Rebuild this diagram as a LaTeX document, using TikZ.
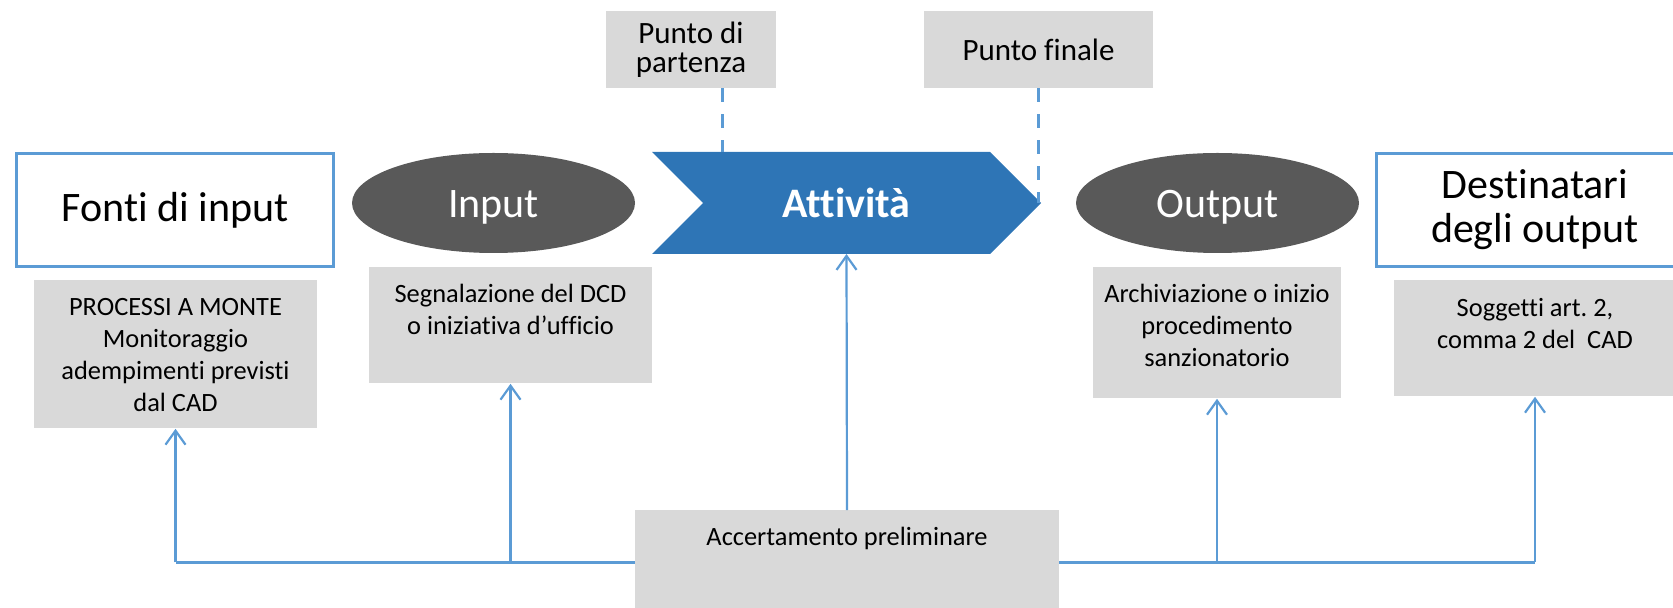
\documentclass[tikz,border=0pt]{standalone}
\usepackage{fontspec}
\setmainfont{Carlito}[Ligatures=NoCommon]
\frenchspacing
\usetikzlibrary{arrows.meta, positioning, backgrounds, shapes.geometric, calc}
\definecolor{lineblue}{HTML}{5B9BD5}
\definecolor{actblue}{HTML}{2E75B6}
\definecolor{ovalgray}{HTML}{595959}
\definecolor{notegray}{HTML}{D9D9D9}
\tikzset{
  headbox/.style={rectangle, draw=lineblue, line width=1.5pt, fill=white, minimum width=158.5pt,
    minimum height=56.5pt, font=\fontsize{21}{22}\selectfont, align=center},
  phase/.style={ellipse, fill=ovalgray, minimum width=141.5pt, minimum height=50pt,
    text height=15pt, text depth=0pt, font=\fontsize{21}{21.5}\selectfont, text=white},
  tag/.style={rectangle, fill=notegray, minimum height=38.5pt, font=\fontsize{15.5}{14.5}\selectfont,
    align=center},
  note/.style={rectangle, fill=notegray, inner sep=0pt, anchor=north, font=\fontsize{13.2}{16}\selectfont},
  arr/.style={-{Straight Barb[length=7pt, width=10pt]}, line width=1.1pt, lineblue},
  bus/.style={line width=1.5pt, lineblue},
  dashline/.style={line width=1.5pt, lineblue, dash pattern=on 7pt off 6pt},
}

\begin{document}
\begin{tikzpicture}[x=0.5pt, y=-0.5pt]
  \useasboundingbox (0,0) rectangle (1673,608);
  \clip (0,0) rectangle (1673,608);

  % main row
  \node[headbox] (src) at (175,210) {Fonti di input};
  \node[phase] (inp) at (493.5,203) {Input};
  \node[outer sep=0pt, minimum width=194.5pt, minimum height=51pt, text=white, text height=15pt,
    text depth=0pt, font=\bfseries\fontsize{21}{21.5}\selectfont] (act) at (846.5,203) {Attività};
  \node[phase] (out) at (1217.5,203) {Output};
  \node[headbox] (dst) at (1535,210) {Destinatari\\degli output};
  \begin{scope}[on background layer]
    \fill[actblue] (act.north west) -- ([xshift=-25.5pt]act.north east) -- (act.east)
      -- ([xshift=-25.5pt]act.south east) -- (act.south west) -- ([xshift=25.5pt]act.west) -- cycle;
  \end{scope}

  % start / end points
  \node[tag, minimum width=85pt] (part) at (691,49.5) {Punto di\\partenza};
  \node[tag, minimum width=114.5pt] (fin) at (1038.5,49.5) {Punto finale};
  \coordinate (startpt) at (722,152);
  \draw[dashline] (part.south -| startpt) -- (startpt);
  \draw[dashline] (fin.south) -- (fin.south |- act.east);

  % details
  \node[note, text height=17.5pt, text depth=56.5pt] (upstream) at (175.5,280)
    {\parbox[t]{141.5pt}{\centering PROCESSI A MONTE\\Monitoraggio\\adempimenti previsti\\dal CAD}};
  \node[note, text height=17.5pt, text depth=40.5pt] (sig) at (510.5,267)
    {\parbox[t]{141.5pt}{\centering Segnalazione del DCD\\o iniziativa d’ufficio}};
  \node[note, text height=17.5pt, text depth=48pt] (arch) at (1217,267)
    {\parbox[t]{124pt}{\centering Archiviazione o inizio\\procedimento\\sanzionatorio}};
  \node[note, text height=18pt, text depth=40pt] (recv) at (1535,280)
    {\parbox[t]{141pt}{\centering Soggetti art. 2,\\comma 2 del~ CAD}};
  \node[note, text height=17.5pt, text depth=34.5pt] (check) at (847,510)
    {\parbox[t]{212pt}{\centering Accertamento preliminare}};

  \draw[bus] (check.west) -- (check.west -| upstream.south);
  \draw[bus] (check.east) -- (check.east -| recv.south);
  \draw[arr] (check.west -| upstream.south) -- (upstream.south);
  \draw[arr] (check.west -| sig.south) -- (sig.south);
  \draw[arr] (check.east -| arch.south) -- (arch.south);
  \draw[arr] (check.east -| recv.south) -- (recv.south);
  \draw[arr] (check.north) -- (act.south);
\end{tikzpicture}
\end{document}
